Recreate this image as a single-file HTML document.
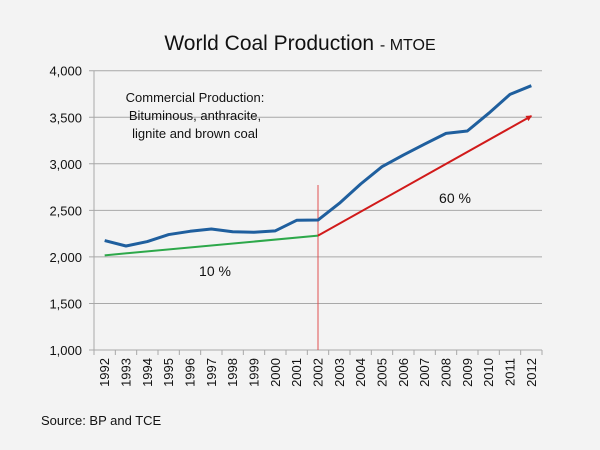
<!DOCTYPE html>
<html><head><meta charset="utf-8"><style>
html,body{margin:0;padding:0;background:#f3f3f3;}
svg{display:block;font-family:"Liberation Sans",sans-serif;}
</style></head><body>
<svg id="chart" width="600" height="450" viewBox="0 0 600 450">
<rect width="600" height="450" fill="#f3f3f3"/>
<text x="300" y="50" text-anchor="middle" font-size="21" fill="#111">World Coal Production <tspan font-size="16">- MTOE</tspan></text>
<g id="grid"></g>
<g id="yticks"></g>
<g id="xticks"></g>
<g id="series"></g>
<text x="195" y="102" text-anchor="middle" font-size="13" fill="#111"><tspan x="195">Commercial Production:</tspan><tspan x="195" dy="18">Bituminous, anthracite,</tspan><tspan x="195" dy="18">lignite and brown coal</tspan></text>
<text x="455" y="203" text-anchor="middle" font-size="14" fill="#111">60 %</text>
<text x="215" y="276" text-anchor="middle" font-size="14" fill="#111">10 %</text>
<text x="41" y="425" font-size="13" fill="#111">Source: BP and TCE</text>
</svg>
<script>
const years = ["1992","1993","1994","1995","1996","1997","1998","1999","2000","2001","2002","2003","2004","2005","2006","2007","2008","2009","2010","2011","2012"];
const production = [2175,2117,2165,2240,2275,2300,2270,2265,2280,2393,2396,2575,2783,2969,3094,3212,3327,3352,3542,3746,3839];
const trendEarlyYears = ["1992","2002"];
const trendEarly = [2017,2228];
const trendLateYears = ["2002","2012"];
const trendLate = [2228,3513];
const yTicks = [1000,1500,2000,2500,3000,3500,4000];
const NS="http://www.w3.org/2000/svg";
const x0=94,x1=542,yTop=70.7,yBot=350,vMin=1000,vMax=4000;
const step=(x1-x0)/years.length;
function xs(c){return x0+(years.indexOf(c)+0.5)*step;}
function ys(v){return yBot-(v-vMin)/(vMax-vMin)*(yBot-yTop);}
function mk(t,a,p){const e=document.createElementNS(NS,t);for(const k in a)e.setAttribute(k,a[k]);p.appendChild(e);return e;}
const grid=document.getElementById('grid'),yt=document.getElementById('yticks'),xt=document.getElementById('xticks'),ser=document.getElementById('series');
yTicks.forEach(v=>{
  const l=mk('line',{x1:x0-5,x2:x1,y1:ys(v),y2:ys(v),stroke:'#a8a8a8','stroke-width':1},grid);
  
  
  const t=mk('text',{x:82,y:ys(v)+5,'text-anchor':'end','font-size':13,fill:'#111'},yt);
  t.textContent=v.toLocaleString('en-US');
  
  
});
const ax=mk('line',{x1:x0,x2:x0,y1:yTop,y2:yBot,stroke:'#a8a8a8'},grid);


for(let i=0;i<=years.length;i++){
  const tk=mk('line',{x1:x0+i*step,x2:x0+i*step,y1:yBot,y2:yBot+5,stroke:'#a8a8a8'},xt);
  
  
}
years.forEach(c=>{
  const x=xs(c)+4.5;
  const t=mk('text',{x:x,y:yBot+8,'text-anchor':'end','font-size':13,fill:'#111',transform:`rotate(-90 ${x} ${yBot+8})`},xt);
  t.textContent=c;
  
  
});
const defs=mk('defs',{},ser);
const mrk=mk('marker',{id:'arr',markerWidth:6,markerHeight:6,refX:5,refY:3,orient:'auto',markerUnits:'userSpaceOnUse'},defs);
mk('path',{d:'M0,0 L6,3 L0,6 Z',fill:'#d11a1a'},mrk);
const vl=mk('line',{x1:xs("2002"),x2:xs("2002"),y1:185,y2:yBot,stroke:'#e05050','stroke-width':1},ser);


const g=mk('polyline',{points:trendEarlyYears.map((c,i)=>xs(c)+','+ys(trendEarly[i])).join(' '),fill:'none',stroke:'#2da84a','stroke-width':2},ser);


const r=mk('polyline',{points:trendLateYears.map((c,i)=>xs(c)+','+ys(trendLate[i])).join(' '),fill:'none',stroke:'#d11a1a','stroke-width':2,'marker-end':'url(#arr)'},ser);


const b=mk('polyline',{points:years.map((c,i)=>xs(c)+','+ys(production[i])).join(' '),fill:'none',stroke:'#1f5f9e','stroke-width':3,'stroke-linejoin':'round'},ser);


</script>
</body></html>
